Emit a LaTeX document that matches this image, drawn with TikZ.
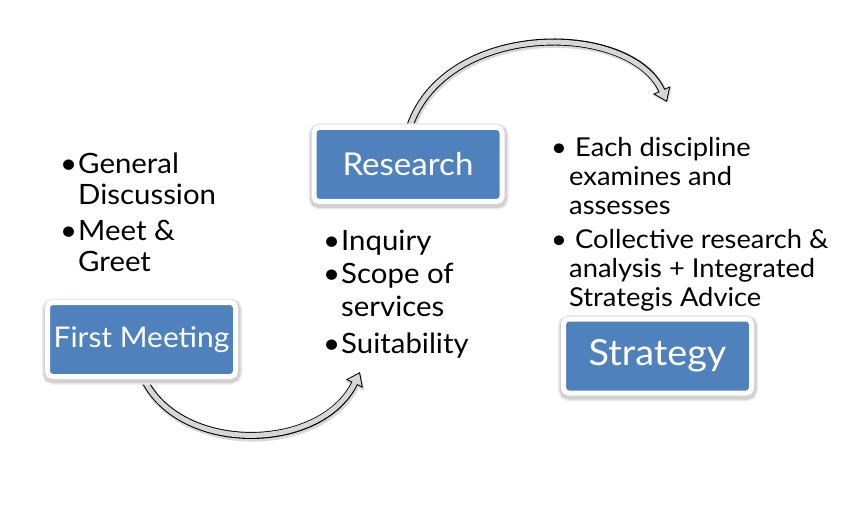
\documentclass[tikz,border=0pt]{standalone}
\usepackage{fontspec}
\setmainfont[FakeStretch=1.05]{Lato}
\usepackage{tikz}
\usetikzlibrary{arrows.meta,positioning}
\definecolor{stepblue}{RGB}{79,129,189}
\definecolor{arrowgray}{RGB}{215,215,215}
\newcommand{\bul}{\makebox[18pt][l]{\textbullet}}
\newcommand{\ind}{\hspace*{18pt}}

\begin{document}
\begin{tikzpicture}[
  x=1pt, y=-1pt,
  stepbox/.style={draw=white, line width=5pt, rounded corners=5pt, fill=stepblue, text=white,
    minimum width=188pt, minimum height=74pt, inner sep=0pt,
    preaction={draw=black!8, line width=12pt, transform canvas={xshift=0.5pt, yshift=-2pt}},
    preaction={draw=black!18, line width=9pt, transform canvas={xshift=0.5pt, yshift=-2pt}}},
  bullets/.style={anchor=north west, align=left, inner sep=0pt},
  flow/.style={line width=7pt, draw=black, -{Triangle[length=13pt,width=18pt]},
    preaction={draw=black!15, line width=9pt, -{Triangle[length=14pt,width=20pt]}, transform canvas={xshift=1pt, yshift=-1.5pt}},
    postaction={draw=arrowgray, line width=5pt, shorten >=1.7pt, -{Triangle[length=10.3pt,width=14.3pt]}}}
]
\useasboundingbox[fill=white] (0,0) rectangle (865,505);

% arrows first, boxes sit on top
\draw[flow] (140,370) .. controls (170,455) and (320,455) .. (360,372);
\draw[flow] (408,132) .. controls (440,20) and (630,20) .. (667,102);

\node[stepbox, font=\fontsize{28.5}{30}\selectfont] (meet) at (141.5,339.5) {First Meeting};
\node[stepbox, font=\fontsize{31.5}{34}\selectfont] (research) at (408,164.5) {Research};
\node[stepbox, font=\fontsize{36}{38}\selectfont] (strategy) at (657.5,356) {Strategy};

\node[bullets, font=\fontsize{28}{31}\selectfont] (meetlist) at (60,153)
  {\bul General\\\ind Discussion\\[5pt]\bul Meet \&\\\ind Greet};
\node[bullets, font=\fontsize{28}{33}\selectfont] (researchlist) at (323,230)
  {\bul Inquiry\\\bul Scope of\\\ind services\\[4pt]\bul Suitability};
\node[bullets, font=\fontsize{26}{29}\selectfont] (strategylist) at (551,137)
  {\bul\hspace{6pt}Each discipline\\\ind examines and\\\ind assesses\\[5pt]\bul\hspace{6pt}Collective research \&\\\ind analysis + Integrated\\\ind Strategis Advice};
\end{tikzpicture}
\end{document}
